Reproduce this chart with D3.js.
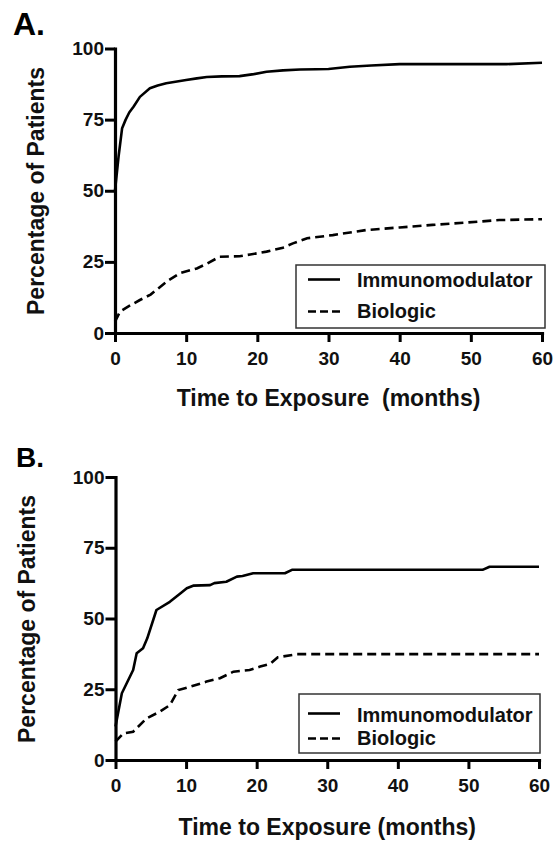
<!DOCTYPE html>
<html>
<head>
<meta charset="utf-8">
<script src="https://cdn.jsdelivr.net/npm/d3@7"></script>
<style>
  html, body { margin: 0; padding: 0; background: #fff; }
  svg { display: block; font-family: "Liberation Sans", Arial, Helvetica, sans-serif; font-weight: bold; }
</style>
</head>
<body>
<svg id="chart" width="556" height="844"></svg>
<script>
// ---------- data ----------
const xTicks = [0, 10, 20, 30, 40, 50, 60];
const yTicks = [0, 25, 50, 75, 100];
const seriesNames = ["Immunomodulator", "Biologic"];

// Panel A
const aImmunoMonths = [0, 0.5, 1, 1.5, 2, 2.6, 3.5, 4.9, 6, 7.2, 8.5, 10, 11.5, 12.9, 15, 17.5, 19.5, 21.3, 23.6, 26, 28.3, 30, 33, 36, 40, 47, 55, 60];
const aImmunoPct    = [50, 62, 72, 75, 77.5, 79.5, 83, 86, 87, 87.8, 88.3, 88.9, 89.5, 90, 90.2, 90.3, 91, 91.8, 92.3, 92.6, 92.7, 92.8, 93.6, 94, 94.5, 94.5, 94.5, 95];
const aBioMonths = [0, 0.7, 2, 3.5, 5, 5.8, 7.5, 9.1, 11.5, 13, 14.7, 17.5, 19, 21.3, 23.6, 25, 27, 30.6, 35.3, 40, 44.6, 49.3, 54, 60];
const aBioPct    = [4, 7.5, 9.5, 11.6, 13.5, 15.1, 18.5, 21, 22.7, 24.5, 26.8, 27, 27.6, 28.6, 30, 31.5, 33.3, 34.4, 36.2, 37.1, 38, 38.8, 39.7, 40];

// Panel B
const bImmunoMonths = [0, 0.9, 2.5, 3, 3.9, 4.5, 5.8, 7.7, 9, 10.1, 11, 13.4, 14, 15.7, 17.2, 18, 19.5, 24, 25, 52, 53, 60];
const bImmunoPct    = [11.8, 23.6, 31.8, 37.7, 39.5, 43, 53, 55.9, 58.5, 60.7, 61.6, 61.8, 62.5, 63, 64.8, 65, 66, 66, 67.2, 67.2, 68.3, 68.3];
const bBioMonths = [0, 1.1, 2.5, 4.4, 6.3, 7.7, 8.9, 10.6, 12.9, 14.8, 16.7, 19, 20.5, 21.9, 23, 25.7, 60];
const bBioPct    = [6.5, 9.4, 10, 14.7, 17.1, 19.4, 24.7, 25.9, 27.7, 28.9, 31.2, 31.8, 33, 34, 36.3, 37.4, 37.4];

// ---------- drawing ----------
const svg = d3.select("#chart");
const zip = (xs, ys) => xs.map((x, i) => [x, ys[i]]);

const panels = [
  { label: "A.", labelPos: [13, 35], labelSize: 32, xRange: [115, 542], yRange: [333, 48.5],
    yTitlePos: [36, 191], xTitle: "Time to Exposure  (months)", xTitleY: 406,
    immuno: zip(aImmunoMonths, aImmunoPct), bio: zip(aBioMonths, aBioPct),
    legend: { x: 296, y: 265, w: 249, h: 63, rows: [287, 318], lines: [279.5, 311.5] } },
  { label: "B.", labelPos: [16, 467], labelSize: 28, xRange: [115.5, 539], yRange: [760, 477],
    yTitlePos: [27, 619], xTitle: "Time to Exposure (months)", xTitleY: 835,
    immuno: zip(bImmunoMonths, bImmunoPct), bio: zip(bBioMonths, bBioPct),
    legend: { x: 299, y: 694, w: 241, h: 59, rows: [721.5, 745], lines: [713.5, 738.5] } }
];

panels.forEach(p => {
  const x = d3.scaleLinear().domain([0, 60]).range(p.xRange);
  const y = d3.scaleLinear().domain([0, 100]).range(p.yRange);
  const g = svg.append("g");

  // panel letter
  g.append("text").attr("x", p.labelPos[0]).attr("y", p.labelPos[1])
    .attr("font-size", p.labelSize).attr("fill", "#000").text(p.label);

  // axes
  const xAxis = g.append("g").attr("transform", `translate(0,${p.yRange[0]})`)
    .call(d3.axisBottom(x).tickValues(xTicks).tickSize(9).tickSizeOuter(0).tickPadding(10));
  const yAxis = g.append("g").attr("transform", `translate(${p.xRange[0]},0)`)
    .call(d3.axisLeft(y).tickValues(yTicks).tickSize(10).tickSizeOuter(0).tickPadding(1));
  [xAxis, yAxis].forEach(ax => {
    ax.attr("font-family", null).attr("font-size", null);
    ax.select(".domain").attr("stroke", "#000").attr("stroke-width", 3.2).attr("stroke-linecap", "square");
    ax.selectAll(".tick line").attr("stroke", "#000").attr("stroke-width", 3);
    ax.selectAll(".tick text").attr("fill", "#111").attr("font-size", 19);
  });

  // axis titles
  g.append("text").attr("transform", `translate(${p.yTitlePos[0]},${p.yTitlePos[1]}) rotate(-90)`)
    .attr("text-anchor", "middle").attr("dominant-baseline", "central")
    .attr("font-size", 23).attr("fill", "#111").text("Percentage of Patients");
  g.append("text").attr("x", (p.xRange[0] + p.xRange[1]) / 2).attr("y", p.xTitleY)
    .attr("text-anchor", "middle").attr("font-size", 23).attr("fill", "#111")
    .style("white-space", "pre").text(p.xTitle);

  // lines
  const line = d3.line().x(d => x(d[0])).y(d => y(d[1]));
  g.append("path").datum(p.immuno).attr("d", line)
    .attr("fill", "none").attr("stroke", "#000").attr("stroke-width", 2.6).attr("stroke-linejoin", "round");
  g.append("path").datum(p.bio).attr("d", line)
    .attr("fill", "none").attr("stroke", "#000").attr("stroke-width", 2.6).attr("stroke-dasharray", "9,5");

  // legend
  const L = p.legend;
  g.append("rect").attr("x", L.x).attr("y", L.y).attr("width", L.w).attr("height", L.h)
    .attr("fill", "#fff").attr("stroke", "#333").attr("stroke-width", 1.5);
  seriesNames.forEach((name, i) => {
    g.append("line").attr("x1", 308).attr("x2", 340).attr("y1", L.lines[i]).attr("y2", L.lines[i])
      .attr("stroke", "#000").attr("stroke-width", 2.6)
      .attr("stroke-dasharray", i === 1 ? "8,4" : null);
    g.append("text").attr("x", 357).attr("y", L.rows[i]).attr("font-size", 20).attr("fill", "#111").text(name);
  });
});
</script>
</body>
</html>
